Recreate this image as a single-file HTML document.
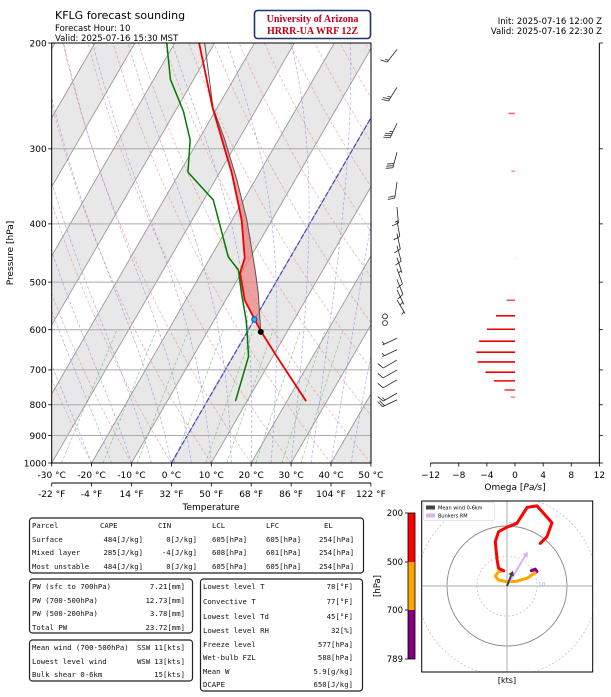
<!DOCTYPE html>
<html><head><meta charset="utf-8">
<style>
body{margin:0;background:#fff;}
svg text{font-family:"DejaVu Sans","Liberation Sans",sans-serif;}
.mono{font-family:"DejaVu Sans Mono","Liberation Mono",monospace;font-size:7.3px;fill:#111;}
</style></head>
<body>
<svg id="s" width="611" height="692" viewBox="0 0 611 692" xmlns="http://www.w3.org/2000/svg">
<defs>
<clipPath id="skewclip"><rect x="51.7" y="43" width="319.3" height="420"/></clipPath>
<clipPath id="hodoclip"><rect x="421.7" y="501" width="171" height="171"/></clipPath>
</defs>
<rect x="0" y="0" width="611" height="692" fill="#fff"/>
<!-- header -->
<text x="55" y="19" font-size="11">KFLG forecast sounding</text>
<text x="55" y="31" font-size="8.5">Forecast Hour: 10</text>
<text x="55" y="41" font-size="8.5">Valid: 2025-07-16 15:30 MST</text>
<g>
<rect x="254.5" y="10.5" width="116" height="28" rx="3" fill="#fff" stroke="#1f3566" stroke-width="1.6"/>
<text x="312.5" y="22" font-size="10" font-weight="bold" fill="#c0001a" text-anchor="middle" style="font-family:'Liberation Serif',serif">University of Arizona</text>
<text x="312.5" y="34" font-size="10" font-weight="bold" fill="#c0001a" text-anchor="middle" style="font-family:'Liberation Serif',serif">HRRR-UA WRF 12Z</text>
</g>
<text x="602" y="24" font-size="8.5" text-anchor="end">Init: 2025-07-16 12:00 Z</text>
<text x="602" y="34" font-size="8.5" text-anchor="end">Valid: 2025-07-16 22:30 Z</text>

<g id="skew"></g>
<g id="barbs"></g>
<g id="omega"></g>
<g id="hodo"></g>

<!-- tables -->
<g>
<rect x="29.5" y="518" width="334" height="55" rx="3" fill="none" stroke="#222" stroke-width="1.2"/>
<text class="mono" x="32" y="528">Parcel</text><text class="mono" x="100" y="528">CAPE</text><text class="mono" x="158" y="528">CIN</text><text class="mono" x="212" y="528">LCL</text><text class="mono" x="266" y="528">LFC</text><text class="mono" x="324" y="528">EL</text>
<text class="mono" x="32" y="542">Surface</text><text class="mono" x="143" y="542" text-anchor="end">484[J/kg]</text><text class="mono" x="197" y="542" text-anchor="end">0[J/kg]</text><text class="mono" x="212" y="542">605[hPa]</text><text class="mono" x="266" y="542">605[hPa]</text><text class="mono" x="319" y="542">254[hPa]</text>
<text class="mono" x="32" y="555">Mixed layer</text><text class="mono" x="143" y="555" text-anchor="end">285[J/kg]</text><text class="mono" x="197" y="555" text-anchor="end">-4[J/kg]</text><text class="mono" x="212" y="555">608[hPa]</text><text class="mono" x="266" y="555">601[hPa]</text><text class="mono" x="319" y="555">254[hPa]</text>
<text class="mono" x="32" y="569">Most unstable</text><text class="mono" x="143" y="569" text-anchor="end">484[J/kg]</text><text class="mono" x="197" y="569" text-anchor="end">0[J/kg]</text><text class="mono" x="212" y="569">605[hPa]</text><text class="mono" x="266" y="569">605[hPa]</text><text class="mono" x="319" y="569">254[hPa]</text>
</g>
<g>
<rect x="29.5" y="579" width="163" height="54" rx="3" fill="none" stroke="#222" stroke-width="1.2"/>
<text class="mono" x="32" y="589">PW (sfc to 700hPa)</text><text class="mono" x="185" y="589" text-anchor="end">7.21[mm]</text>
<text class="mono" x="32" y="603">PW (700-500hPa)</text><text class="mono" x="185" y="603" text-anchor="end">12.73[mm]</text>
<text class="mono" x="32" y="616">PW (500-200hPa)</text><text class="mono" x="185" y="616" text-anchor="end">3.78[mm]</text>
<text class="mono" x="32" y="630">Total PW</text><text class="mono" x="185" y="630" text-anchor="end">23.72[mm]</text>
</g>
<g>
<rect x="29.5" y="640" width="163" height="41" rx="3" fill="none" stroke="#222" stroke-width="1.2"/>
<text class="mono" x="32" y="650">Mean wind (700-500hPa)</text><text class="mono" x="137" y="650">SSW</text><text class="mono" x="185" y="650" text-anchor="end">11[kts]</text>
<text class="mono" x="32" y="664">Lowest level wind</text><text class="mono" x="137" y="664">WSW</text><text class="mono" x="185" y="664" text-anchor="end">13[kts]</text>
<text class="mono" x="32" y="677">Bulk shear 0-6km</text><text class="mono" x="185" y="677" text-anchor="end">15[kts]</text>
</g>
<g>
<rect x="200.5" y="579" width="162" height="112" rx="3" fill="none" stroke="#222" stroke-width="1.2"/>
<text class="mono" x="203" y="589">Lowest level T</text><text class="mono" x="353" y="589" text-anchor="end">78[°F]</text>
<text class="mono" x="203" y="604">Convective T</text><text class="mono" x="353" y="604" text-anchor="end">77[°F]</text>
<text class="mono" x="203" y="619">Lowest level Td</text><text class="mono" x="353" y="619" text-anchor="end">45[°F]</text>
<text class="mono" x="203" y="633">Lowest level RH</text><text class="mono" x="353" y="633" text-anchor="end">32[%]</text>
<text class="mono" x="203" y="647">Freeze level</text><text class="mono" x="353" y="647" text-anchor="end">577[hPa]</text>
<text class="mono" x="203" y="660">Wet-bulb FZL</text><text class="mono" x="353" y="660" text-anchor="end">588[hPa]</text>
<text class="mono" x="203" y="674">Mean W</text><text class="mono" x="353" y="674" text-anchor="end">5.9[g/kg]</text>
<text class="mono" x="203" y="687">DCAPE</text><text class="mono" x="353" y="687" text-anchor="end">650[J/kg]</text>
</g>
</svg>
<script>
// ---- data ----
var tempP = [789,665,600,536,483,456,394,329,256,200];
var tempT = [24.8,11.0,2.9,-5.2,-10.3,-11.3,-17.6,-26.9,-41.2,-53.9];
var dewP = [789,665,601,578,522,477,454,365,328,290,260,230,200];
var dewT = [7.1,3.9,-0.3,-2.0,-7.0,-11.2,-15.6,-27.6,-38.0,-42.1,-47.9,-55.8,-62.0];
var parcelP = [789,605,522,477,394,338,290,256,200];
var parcelT = [24.8,3.4,-2.8,-7.0,-16.3,-24.6,-33.4,-41.1,-52.5];
var lclP = 605, lclT = 3.4;
var frzP = 577, frzT = 0.0;
var elP = 256;
var pTicks = [200,300,400,500,600,700,800,900,1000];
var tTicksC = [-30,-20,-10,0,10,20,30,40,50];
var tTicksF = ["-22 °F","-4 °F","14 °F","32 °F","50 °F","68 °F","86 °F","104 °F","122 °F"];
var omegaP = [262,327,456,536,569,599,627,654,679,706,730,756,777];
var omegaV = [-0.95,-0.5,0.1,-1.2,-2.7,-4.0,-5.1,-5.5,-5.3,-4.2,-3.0,-1.5,-0.6];
var omegaTicks = [-12,-8,-4,0,4,8,12];
var barbP = [205,237,272,304,341,375,395,415,435,455,475,495,515,535,570,585,620,648,674,700,727,765,785];
var barbDir = [218,212,205,195,188,175,170,168,165,162,160,158,155,150,0,0,245,245,240,240,240,240,245];
var barbSpd = [15,25,35,30,20,15,10,10,10,5,10,10,5,5,0,0,5,5,10,10,10,15,20];
var hodoLowU = [8.1,9.4,10.0,9.4];
var hodoLowV = [5.1,5.6,4.8,4.4];
var hodoMidU = [9.4,6.7,3.3,0,-2.8,-3.9,-2.8,-1.1];
var hodoMidV = [4.4,2.6,1.6,1.4,2.0,3.3,4.8,5.1];
var hodoUpU = [-1.1,-2.8,-3.3,-3.9,-2.8,0,3.3,6.7,10,15,13.3,11.1];
var hodoUpV = [5.1,5.9,8.7,14.8,18.1,19.6,20.9,26.2,26.7,21.1,16.4,14.2];
var meanWindUV = [2.0,5.1];
var bunkersUV = [6.9,11.4];
var cbarLevels = [200,500,700,789];

// ---- helpers ----
var NS="http://www.w3.org/2000/svg";
function mk(tag, attrs, parent){var e=document.createElementNS(NS,tag);for(var k in attrs)e.setAttribute(k,attrs[k]);(parent||document.getElementById('s')).appendChild(e);return e;}
var X0=51.7, X1=371, Y0=43, Y1=463, PX=3.99, SK=0.578;
function yP(p){return Y1 - Math.log(1000/p)/Math.log(5)*(Y1-Y0);}
function xT(t,p){return X0 + (t+30)*PX + (Y1-yP(p))*SK;}
function path(ts,ps){var d='';for(var i=0;i<ts.length;i++){d+=(i?'L':'M')+xT(ts[i],ps[i]).toFixed(2)+','+yP(ps[i]).toFixed(2);}return d;}

var skew=document.getElementById('skew');
var cg=mk('g',{'clip-path':'url(#skewclip)'},skew);
// shaded isotherm bands
for(var t=-120;t<=60;t+=20){
  var band=mk('polygon',{points:[xT(t,1000)+','+Y1,xT(t+10,1000)+','+Y1,xT(t+10,200)+','+Y0,xT(t,200)+','+Y0].join(' '),fill:'#e8e8e8'},cg);
  
  
}
// dry adiabats
for(var th=-30;th<=170;th+=10){
  var ts=[],ps=[];for(var p=1000;p>=200;p-=10){ps.push(p);ts.push((th+273.15)*Math.pow(p/1000,0.2857)-273.15);}
  var e=mk('path',{d:path(ts,ps),fill:'none',stroke:'#f08080','stroke-width':0.7,'stroke-dasharray':'3,2',opacity:0.7},cg);
  
  
}
// moist adiabats
function es(t){return 6.112*Math.exp(17.67*t/(t+243.5));}
for(var t0=-20;t0<=45;t0+=5){
  var ts=[],ps=[],T=t0+273.15;
  for(var p=1000;p>=200;p-=5){ps.push(p);ts.push(T-273.15);
    var rs=0.622*es(T-273.15)/(p-es(T-273.15));
    var dTdp=(287*T+2.5e6*rs)/(p*(1004+2.5e6*2.5e6*rs*0.622/(287*T*T)));
    T-=dTdp*5;}
  var e=mk('path',{d:path(ts,ps),fill:'none',stroke:'#6f6ff0','stroke-width':0.7,'stroke-dasharray':'3,2',opacity:0.6},cg);
  
  
}
// mixing ratio lines
[0.0004,0.001,0.002,0.004,0.007,0.01,0.016,0.024,0.032].forEach(function(w){
  var ts=[],ps=[];for(var p=1000;p>=600;p-=10){var ev=w*p/(0.622+w);var l=Math.log(ev/6.112);ps.push(p);ts.push(243.5*l/(17.67-l));}
  var e=mk('path',{d:path(ts,ps),fill:'none',stroke:'#5cb85c','stroke-width':0.7,'stroke-dasharray':'3,2',opacity:0.7},cg);
  
  
});
// isotherms
for(var t=-120;t<=60;t+=10){
  var e=mk('line',{x1:xT(t,1000),y1:Y1,x2:xT(t,200),y2:Y0,stroke:'#999','stroke-width':0.9},cg);
  
  
}
var zi=mk('line',{x1:xT(0,1000),y1:Y1,x2:xT(0,200),y2:Y0,stroke:'#4040d0','stroke-width':1.2,'stroke-dasharray':'5,2'},cg);


// pressure grid
pTicks.forEach(function(p){
  var e=mk('line',{x1:X0,x2:X1,y1:yP(p),y2:yP(p),stroke:'#aaa','stroke-width':1},cg);
  
  
});
// CAPE shading
(function(){
  var d='';var first=true;
  for(var i=0;i<parcelP.length;i++){if(parcelP[i]>lclP||parcelP[i]<elP)continue;d+=(first?'M':'L')+xT(parcelT[i],parcelP[i])+','+yP(parcelP[i]);first=false;}
  for(var j=tempP.length-1;j>=0;j--){if(tempP[j]>lclP||tempP[j]<elP)continue;d+='L'+xT(tempT[j],tempP[j])+','+yP(tempP[j]);}
  d+='L'+xT(lclT,lclP)+','+yP(lclP)+'Z';
  var e=mk('path',{d:d,fill:'#e88080',opacity:0.75},cg);
  
  
  var d2='';for(var i=0;i<parcelP.length;i++){if(parcelP[i]<lclP)continue;d2+=(d2?'L':'M')+xT(parcelT[i],parcelP[i])+','+yP(parcelP[i]);}
  for(var j=0;j<tempP.length;j++){if(tempP[j]<lclP)break;}
  var poly='M'+xT(tempT[0],tempP[0])+','+yP(tempP[0])+'L'+xT(lclT,lclP)+','+yP(lclP)+'L'+xT(tempT[1],tempP[1])+','+yP(tempP[1])+'Z';
  var e2=mk('path',{d:poly,fill:'#e88080',opacity:0.6},cg);
  
  
})();
var pp=mk('path',{d:path(parcelT,parcelP),fill:'none',stroke:'#555','stroke-width':1},cg);


var tl=mk('path',{d:path(tempT,tempP),fill:'none',stroke:'#ee0000','stroke-width':1.8},cg);


var dl=mk('path',{d:path(dewT,dewP),fill:'none',stroke:'#007a00','stroke-width':1.5},cg);


var fz=mk('circle',{cx:xT(frzT,frzP),cy:yP(frzP),r:2.6,fill:'#00d0e0',stroke:'#1f3ad0','stroke-width':1},skew);


var lc=mk('circle',{cx:xT(lclT,lclP),cy:yP(lclP),r:3,fill:'#000'},skew);


// frame + ticks
mk('rect',{x:X0,y:Y0,width:X1-X0,height:Y1-Y0,fill:'none',stroke:'#000','stroke-width':1},skew);
pTicks.forEach(function(p){
  mk('line',{x1:X0-3.5,x2:X0,y1:yP(p),y2:yP(p),stroke:'#000','stroke-width':0.8},skew);
  var e=mk('text',{x:X0-5,y:yP(p)+3.3,'font-size':9,'text-anchor':'end'},skew);e.textContent=p;
  
  
});
var yl=mk('text',{x:13,y:253,'font-size':9,'text-anchor':'middle',transform:'rotate(-90 13 253)'},skew);yl.textContent='Pressure [hPa]';


tTicksC.forEach(function(t,i){
  var x=X0+(t+30)*PX;
  mk('line',{x1:x,x2:x,y1:Y1,y2:Y1+3.5,stroke:'#000','stroke-width':0.8},skew);
  var e=mk('text',{x:x,y:478,'font-size':9,'text-anchor':'middle'},skew);e.textContent=t+' °C';
  
  
  mk('line',{x1:x,x2:x,y1:483,y2:486.5,stroke:'#000','stroke-width':0.8},skew);
  var f=mk('text',{x:x,y:497,'font-size':9,'text-anchor':'middle'},skew);f.textContent=tTicksF[i];
  
  
});
mk('line',{x1:X0,x2:X1,y1:483,y2:483,stroke:'#000','stroke-width':1},skew);
var xl=mk('text',{x:211,y:510,'font-size':9,'text-anchor':'middle'},skew);xl.textContent='Temperature';



// ---- wind barbs ----
var bg=document.getElementById('barbs');
barbP.forEach(function(p,i){
  var bx=397, by=yP(p), spd=barbSpd[i], dir=barbDir[i]*Math.PI/180;
  if(spd<2.5){
    var c=mk('circle',{cx:bx-12,cy:by,r:2.5,fill:'none',stroke:'#222','stroke-width':0.8},bg);
    
    
    return;}
  var sx=Math.sin(dir), sy=-Math.cos(dir), L=16;
  var tx=bx+sx*L, ty=by+sy*L;
  var g=mk('g',{stroke:'#222','stroke-width':0.8,fill:'none'},bg);
  
  
  mk('line',{x1:bx,y1:by,x2:tx,y2:ty},g);
  var px=-sy, py=sx, fx=0.94*px+0.34*sx, fy=0.94*py+0.34*sy;
  var n=Math.round(spd/5), full=Math.floor(n/2), half=n%2, k=0;
  for(var f=0;f<full;f++){var ox=tx-sx*2.2*k, oy=ty-sy*2.2*k;mk('line',{x1:ox,y1:oy,x2:ox+fx*7,y2:oy+fy*7},g);k++;}
  if(half){if(k===0)k=1;var ox=tx-sx*2.2*k, oy=ty-sy*2.2*k;mk('line',{x1:ox,y1:oy,x2:ox+fx*3.5,y2:oy+fy*3.5},g);}
});

// ---- omega ----
var og=document.getElementById('omega');
var OZ=515, OS=7.03;
function xO(v){return OZ+v*OS;}
omegaP.forEach(function(p,i){
  var v=omegaV[i], op=Math.min(1,0.25+Math.abs(v)/3);
  var e=mk('line',{x1:xO(0),x2:xO(v),y1:yP(p),y2:yP(p),stroke:v<0?'#ee0000':'#999','stroke-width':1.6,opacity:op},og);
  
  
});
mk('line',{x1:xO(-12),x2:xO(12),y1:Y1,y2:Y1,stroke:'#000','stroke-width':1},og);
mk('line',{x1:xO(12),x2:xO(12),y1:Y0,y2:Y1,stroke:'#000','stroke-width':1},og);
pTicks.forEach(function(p){mk('line',{x1:xO(12),x2:xO(12)+3.5,y1:yP(p),y2:yP(p),stroke:'#000','stroke-width':0.8},og);});
omegaTicks.forEach(function(v){
  mk('line',{x1:xO(v),x2:xO(v),y1:Y1,y2:Y1+3.5,stroke:'#000','stroke-width':0.8},og);
  var e=mk('text',{x:xO(v),y:478,'font-size':9,'text-anchor':'middle'},og);e.textContent=(v<0?'\u2212'+(-v):v);
  
  
});
var ol=mk('text',{x:OZ,y:490,'font-size':9,'text-anchor':'middle'},og);
ol.innerHTML='Omega [<tspan font-style="italic">Pa/s</tspan>]';



// ---- hodograph ----
var hg=document.getElementById('hodo');
var HX=507, HY=586, HS=3;
function hx(u){return HX+u*HS;} function hy(v){return HY-v*HS;}
var hc=mk('g',{'clip-path':'url(#hodoclip)'},hg);
[10,30,40].forEach(function(r){mk('circle',{cx:HX,cy:HY,r:r*HS,fill:'none',stroke:'#bbb','stroke-width':0.7,'stroke-dasharray':'2,2'},hc);});
mk('circle',{cx:HX,cy:HY,r:20*HS,fill:'none',stroke:'#888','stroke-width':0.9},hc);
mk('line',{x1:421.7,x2:592.7,y1:HY,y2:HY,stroke:'#bbb','stroke-width':1.2},hc);
mk('line',{x1:HX,x2:HX,y1:501,y2:672,stroke:'#bbb','stroke-width':1.2},hc);
var t20=mk('text',{x:hx(0.5),y:hy(19.8),'font-size':6,fill:'#aaa'},hc);t20.textContent='20';
var t10=mk('text',{x:hx(10.3),y:hy(-0.2),'font-size':6,fill:'#aaa'},hc);t10.textContent='10';
function hpath(us,vs){var d='';for(var i=0;i<us.length;i++)d+=(i?'L':'M')+hx(us[i])+','+hy(vs[i]);return d;}
var h1=mk('path',{d:hpath(hodoLowU,hodoLowV),fill:'none',stroke:'#800080','stroke-width':3,'stroke-linecap':'round','stroke-linejoin':'round'},hc);


var h2=mk('path',{d:hpath(hodoMidU,hodoMidV),fill:'none',stroke:'#ffa500','stroke-width':3,'stroke-linecap':'round','stroke-linejoin':'round'},hc);


var h3=mk('path',{d:hpath(hodoUpU,hodoUpV),fill:'none',stroke:'#ff0000','stroke-width':3,'stroke-linecap':'round','stroke-linejoin':'round'},hc);


function arrow(uv,col,w,name){
  var x2=hx(uv[0]),y2=hy(uv[1]),ang=Math.atan2(y2-HY,x2-HX),h=5;
  var g=mk('g',{},hc);
  
  
  mk('line',{x1:HX,y1:HY,x2:x2-Math.cos(ang)*3,y2:y2-Math.sin(ang)*3,stroke:col,'stroke-width':w},g);
  mk('polygon',{points:[x2+','+y2,(x2-h*Math.cos(ang)+3*Math.sin(ang))+','+(y2-h*Math.sin(ang)-3*Math.cos(ang)),(x2-h*Math.cos(ang)-3*Math.sin(ang))+','+(y2-h*Math.sin(ang)+3*Math.cos(ang))].join(' '),fill:col},g);
}
arrow(bunkersUV,'#d9b3f0',2,'bunkers-rm-arrow');
arrow(meanWindUV,'#444',2,'mean-wind-arrow');
mk('rect',{x:421.7,y:501,width:171,height:171,fill:'none',stroke:'#000','stroke-width':1},hg);
// legend
var lg=mk('g',{},hg);


mk('rect',{x:423.5,y:502.5,width:71,height:18,fill:'#fff',stroke:'#ccc','stroke-width':0.5,rx:1},lg);
mk('rect',{x:426,y:505.5,width:9,height:4,fill:'#444'},lg);
var lt1=mk('text',{x:438,y:509.5,'font-size':5},lg);lt1.textContent='Mean wind 0-6km';
mk('rect',{x:426,y:513.5,width:9,height:4,fill:'#d9b3f0'},lg);
var lt2=mk('text',{x:438,y:517.5,'font-size':5},lg);lt2.textContent='Bunkers RM';
var kl=mk('text',{x:507,y:683,'font-size':8,'text-anchor':'middle'},hg);kl.textContent='[kts]';


// colorbar
var cb=mk('g',{},hg);


var cy=[513,562,610,659], cols=['#ff0000','#ffa500','#800080'];
for(var i=0;i<3;i++)mk('rect',{x:408,y:cy[i],width:7,height:cy[i+1]-cy[i],fill:cols[i]},cb);
mk('rect',{x:408,y:513,width:7,height:146,fill:'none',stroke:'#000','stroke-width':0.8},cb);
cbarLevels.forEach(function(l,i){
  mk('line',{x1:405,x2:408,y1:cy[i],y2:cy[i],stroke:'#000','stroke-width':0.8},cb);
  var e=mk('text',{x:403,y:cy[i]+3,'font-size':8.5,'text-anchor':'end'},cb);e.textContent=l;
});
var hl=mk('text',{x:380,y:586,'font-size':8.5,'text-anchor':'middle',transform:'rotate(-90 380 586)'},cb);hl.textContent='[hPa]';
</script>
</body></html>
